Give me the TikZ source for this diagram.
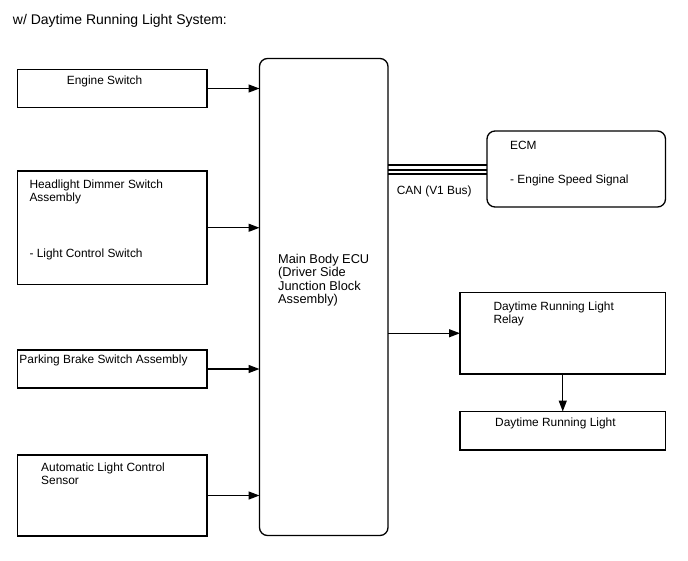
\documentclass[tikz,border=0pt]{standalone}
\usepackage{fontspec}
\setmainfont{Liberation Sans}
\usetikzlibrary{arrows.meta}
\begin{document}
\begin{tikzpicture}[x=1pt,y=-1pt,
  box/.style={draw=black,line width=1.3pt,inner sep=0pt,outer sep=0pt,anchor=north west},
  rbox/.style={box,rounded corners=8pt},
  txt/.style={anchor=base west,inner sep=0pt,align=left,font=\fontsize{11.9}{13.3}\selectfont},
  arr/.style={line width=1.3pt,-{Triangle[length=11pt,width=8pt]}},
  bus/.style={line width=2pt}]
\useasboundingbox (0,0) rectangle (688,560);
\node[txt,font=\fontsize{14}{16}\selectfont] (title) at (12.7,24) {w/ Daytime Running Light System:};
% boxes
\node[box,minimum width=189.5pt,minimum height=38pt] (es) at (17.5,69.5) {};
\node[box,minimum width=189.5pt,minimum height=113.5pt] (hd) at (17.5,171) {};
\node[box,minimum width=189.5pt,minimum height=38pt] (pb) at (17.5,350) {};
\node[box,minimum width=189.5pt,minimum height=81pt] (al) at (17.5,455) {};
\node[rbox,minimum width=128.5pt,minimum height=477pt] (ecu) at (259.5,58.5) {};
\node[rbox,minimum width=178.5pt,minimum height=76pt] (ecm) at (487,131) {};
\node[box,minimum width=205.5pt,minimum height=81.5pt] (rel) at (460,292.5) {};
\node[box,minimum width=205.5pt,minimum height=38.5pt] (drl) at (460,411.5) {};
% texts (multi-line nodes are placed by the baseline of their last line)
\node[txt] (tes) at (66.7,84) {Engine Switch};
\node[txt] (thd) at (29.3,201.7) {Headlight Dimmer Switch\\Assembly};
\node[txt] (thd2) at (29.3,257.3) {- Light Control Switch};
\node[txt] (tpb) at (19.3,363.5) {Parking Brake Switch Assembly};
\node[txt] (tal) at (41,484.3) {Automatic Light Control\\Sensor};
\node[txt,font=\fontsize{12.8}{13.3}\selectfont] (tecu) at (278,303.3) {Main Body ECU\\(Driver Side\\Junction Block\\Assembly)};
\node[txt] (tecm) at (510,149.3) {ECM};
\node[txt] (tecm2) at (510,183.3) {- Engine Speed Signal};
\node[txt] (tcan) at (396.7,194) {CAN (V1 Bus)};
\node[txt] (trel) at (493.3,323.3) {Daytime Running Light\\Relay};
\node[txt] (tdrl) at (495,426.7) {Daytime Running Light};
% connectors
\draw[arr] (es.east) -- (es.east -| ecu.west);
\draw[arr] (hd.east) -- (hd.east -| ecu.west);
\draw[arr] (pb.east) -- (pb.east -| ecu.west);
\draw[arr] (al.east) -- (al.east -| ecu.west);
\draw[arr] (rel.west -| ecu.east) -- (rel.west);
\draw[arr] (rel.south) -- (drl.north);
\draw[bus] ([yshift=-5pt]ecm.west -| ecu.east) -- ([yshift=-5pt]ecm.west);
\draw[bus] ([yshift=-0.5pt]ecm.west -| ecu.east) -- ([yshift=-0.5pt]ecm.west);
\draw[bus] ([yshift=4pt]ecm.west -| ecu.east) -- ([yshift=4pt]ecm.west);
\end{tikzpicture}
\end{document}
